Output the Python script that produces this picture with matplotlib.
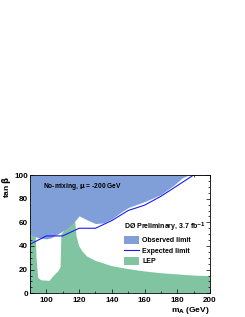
import matplotlib
matplotlib.use("Agg")
import matplotlib.pyplot as plt
from matplotlib.patches import Patch
from matplotlib.lines import Line2D
from matplotlib.ticker import MultipleLocator

plt.rcParams['font.family'] = ['Liberation Sans', 'DejaVu Sans']
plt.rcParams['font.weight'] = 'bold'

# observed limit: lower edge of the excluded region (filled up to tan b = 100)
obs_m = [90, 95, 100, 103, 108, 113, 118, 120, 125, 130, 135, 140, 145, 150, 160, 170, 178, 183, 187, 200]
obs_tb = [49.5, 47, 46, 47, 51, 55, 62, 65.5, 62, 59, 59.5, 63, 68, 72.5, 77.5, 83.5, 91.5, 97.5, 100, 100]

# expected limit
exp_m = [90, 100, 110, 120, 130, 140, 150, 160, 170, 180, 190, 200]
exp_tb = [41.5, 48.5, 48.5, 55, 55, 61.5, 70, 74.5, 82, 91, 100, 100]

# LEP excluded region outline
lep_m = [90, 90, 93.5, 94, 95, 97, 102, 104, 107.5, 108.7, 109.2, 113, 117.5, 118.5, 120,
         122, 125, 130, 140, 150, 160, 170, 180, 190, 200, 200]
lep_tb = [0, 49, 48, 30, 13, 11, 10.5, 14, 19, 22, 50, 56, 62, 48, 40,
          35.5, 31, 27.5, 23, 20.5, 18.5, 17, 16, 15, 14.5, 0]

blue_fill = '#809fd8'
green_fill = '#80c4a2'
line_col = '#1a1aff'

fig = plt.figure(figsize=(2.45, 3.17), dpi=100)
ax = fig.add_axes([0.1224, 0.0747, 0.7347, 0.3732])

ax.fill(lep_m, lep_tb, color=green_fill, lw=0, zorder=1)
ax.fill_between(obs_m, obs_tb, 100, color=blue_fill, lw=0, zorder=2)
ax.plot(exp_m, exp_tb, color=line_col, lw=0.8, zorder=3)

ax.set_xlim(90, 200)
ax.set_ylim(0, 100)
ax.xaxis.set_major_locator(MultipleLocator(20))
ax.xaxis.set_minor_locator(MultipleLocator(10))
ax.yaxis.set_major_locator(MultipleLocator(20))
ax.yaxis.set_minor_locator(MultipleLocator(5))
ax.tick_params(which='both', direction='in', top=True, right=True, labelsize=5.8, width=0.5)
ax.tick_params(which='major', length=3)
ax.tick_params(which='minor', length=1.6)
ax.tick_params(axis='x', pad=2.5)
ax.tick_params(axis='y', pad=1.5)
for lab in ax.get_xticklabels() + ax.get_yticklabels():
    lab.set_fontweight('bold')
for sp in ax.spines.values():
    sp.set_linewidth(0.6)
    sp.set_zorder(5)

ax.set_xlabel(r'm$_\mathbf{A}$ (GeV)', fontsize=6, fontweight='bold', loc='right', labelpad=1)
ax.set_ylabel(r'tan $\mathbf{\beta}$', fontsize=6, fontweight='bold', loc='top', labelpad=0.5)

ax.text(0.07, 0.90, r'No-mixing, $\mathbf{\mu}$ = -200 GeV', transform=ax.transAxes,
        fontsize=4.8, fontweight='bold', va='center', ha='left')

handles = [Patch(facecolor=blue_fill, edgecolor='none'),
           Line2D([], [], color=line_col, lw=0.8),
           Patch(facecolor=green_fill, edgecolor='none')]
labels = ['Observed limit', 'Expected limit', 'LEP']
leg = ax.legend(handles, labels, title=r'DØ Preliminary, 3.7 fb$^{\mathbf{-1}}$',
                loc='upper left', bbox_to_anchor=(0.52, 0.615), frameon=False,
                fontsize=5, title_fontsize=5, handlelength=2.2, handleheight=1.4,
                labelspacing=0.3, handletextpad=0.5, borderpad=0, borderaxespad=0)
leg._legend_box.align = 'left'
for t in leg.get_texts():
    t.set_fontweight('bold')
leg.get_title().set_fontweight('bold')

fig.savefig('out.png', dpi=100)
